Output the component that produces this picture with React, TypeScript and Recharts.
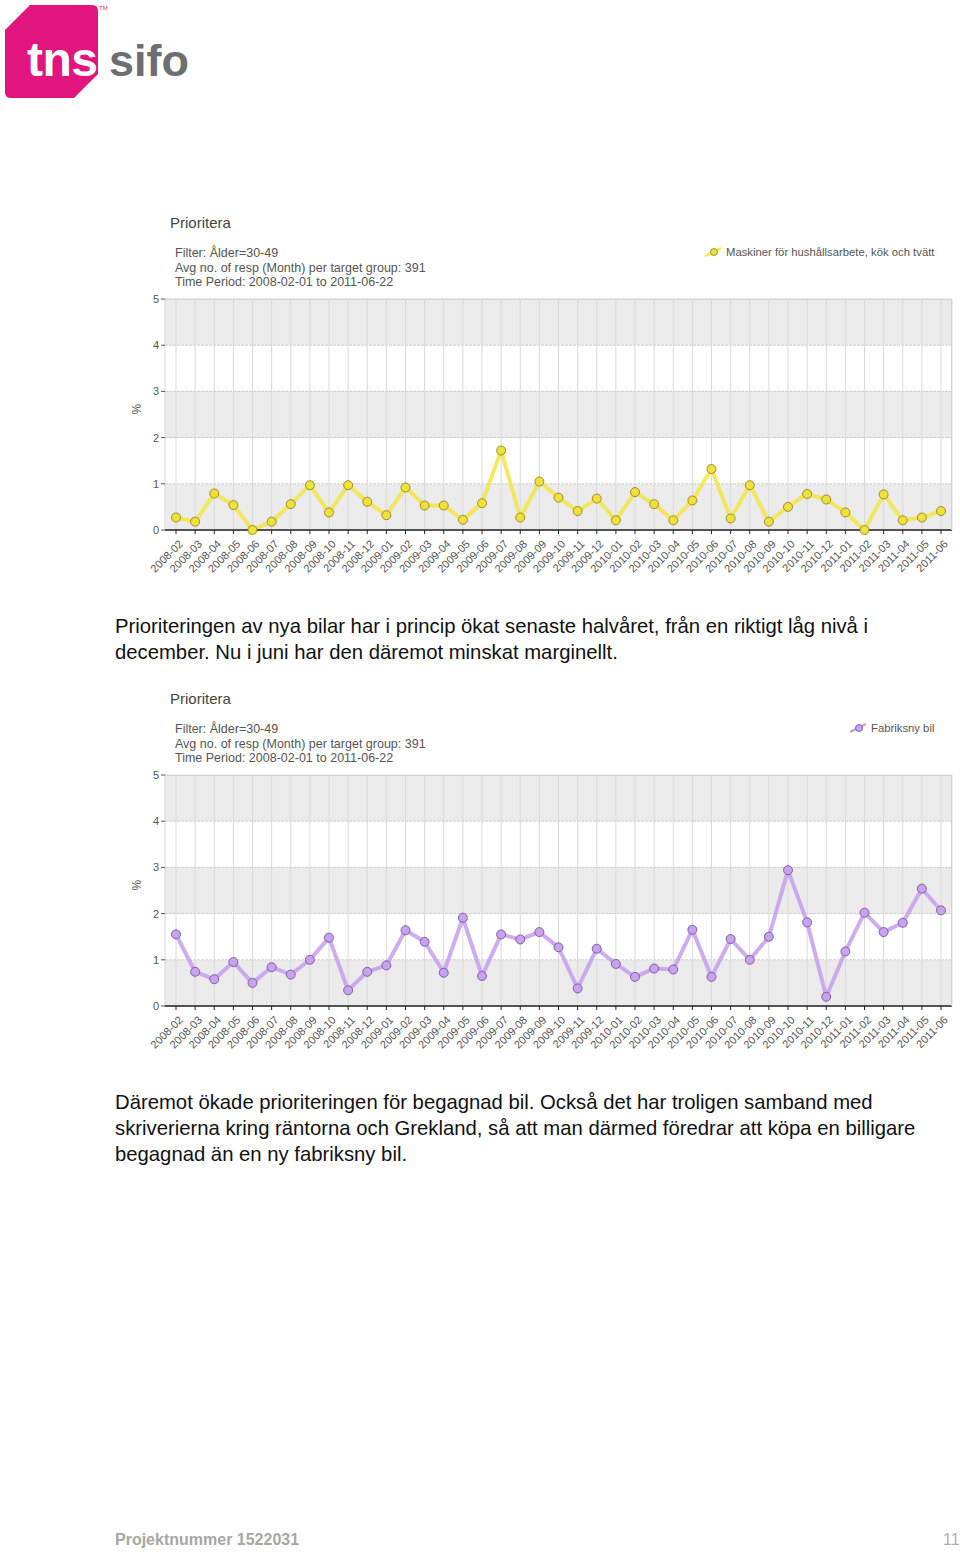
import React from 'react';
import {
  LineChart,
  Line,
  XAxis,
  YAxis,
  CartesianGrid,
} from 'recharts';

const months = [
  '2008-02', '2008-03', '2008-04', '2008-05', '2008-06', '2008-07', '2008-08', '2008-09',
  '2008-10', '2008-11', '2008-12', '2009-01', '2009-02', '2009-03', '2009-04', '2009-05',
  '2009-06', '2009-07', '2009-08', '2009-09', '2009-10', '2009-11', '2009-12', '2010-01',
  '2010-02', '2010-03', '2010-04', '2010-05', '2010-06', '2010-07', '2010-08', '2010-09',
  '2010-10', '2010-11', '2010-12', '2011-01', '2011-02', '2011-03', '2011-04', '2011-05',
  '2011-06',
];

const maskinerValues = [
  0.27, 0.18, 0.79, 0.54, 0.0, 0.18, 0.56, 0.97, 0.38, 0.97, 0.61, 0.32, 0.92, 0.53,
  0.53, 0.22, 0.58, 1.72, 0.27, 1.05, 0.7, 0.41, 0.68, 0.21, 0.82, 0.56, 0.21, 0.64,
  1.32, 0.25, 0.97, 0.18, 0.5, 0.78, 0.66, 0.38, 0.0, 0.77, 0.21, 0.27, 0.41,
];

const fabriksnyValues = [
  1.55, 0.74, 0.58, 0.95, 0.5, 0.84, 0.68, 1.0, 1.48, 0.34, 0.74, 0.88, 1.64, 1.39,
  0.72, 1.91, 0.65, 1.55, 1.44, 1.6, 1.27, 0.38, 1.24, 0.91, 0.63, 0.81, 0.79, 1.65,
  0.63, 1.45, 1.0, 1.5, 2.94, 1.81, 0.2, 1.18, 2.02, 1.6, 1.8, 2.54, 2.07,
];

const yTicks = [0, 1, 2, 3, 4, 5];

const infoLines = [
  'Filter: Ålder=30-49',
  'Avg no. of resp (Month) per target group: 391',
  'Time Period: 2008-02-01 to 2011-06-22',
];

const FONT = '"Liberation Sans", Arial, sans-serif';

function MonthTick(props: any) {
  const { x, y, payload } = props;
  return (
    <g transform={`translate(${x + 2},${y + 3}) rotate(-45)`}>
      <text textAnchor="end" dy={8} fontSize={11} fill="#555" fontFamily={FONT}>
        {payload.value}
      </text>
    </g>
  );
}

interface PanelProps {
  top: number;
  values: number[];
  label: string;
  line: string;
  dotFill: string;
  dotStroke: string;
  legendLeft: number;
}

function Panel({ top, values, label, line, dotFill, dotStroke, legendLeft }: PanelProps) {
  const data = months.map((m, i) => ({ month: m, value: values[i] }));
  return (
    <div style={{ position: 'absolute', left: 0, top, width: 960, height: 380 }}>
      <div style={{ position: 'absolute', left: 170, top: 6, fontSize: 15, color: '#444', fontFamily: FONT }}>
        Prioritera
      </div>
      {infoLines.map((t, i) => (
        <div
          key={t}
          style={{
            position: 'absolute',
            left: 175,
            top: 38 + i * 14.5,
            fontSize: 12.5,
            color: '#555',
            fontFamily: FONT,
            whiteSpace: 'nowrap',
          }}
        >
          {t}
        </div>
      ))}
      <div
        style={{
          position: 'absolute',
          left: legendLeft,
          top: 38,
          display: 'flex',
          alignItems: 'center',
          gap: 4,
          fontSize: 11.3,
          color: '#555',
          fontFamily: FONT,
          whiteSpace: 'nowrap',
        }}
      >
        <svg width={18} height={12}>
          <line x1={1} y1={10} x2={17} y2={2} stroke={line} strokeWidth={2.5} />
          <circle cx={10} cy={6} r={3.5} fill={dotFill} stroke={dotStroke} strokeWidth={0.8} />
        </svg>
        {label}
      </div>
      <div style={{ position: 'absolute', left: 0, top: 82 }}>
        <LineChart
          width={960}
          height={300}
          data={data}
          margin={{ top: 9, right: 8, left: 140, bottom: 10 }}
        >
          <CartesianGrid
            vertical={false}
            horizontalFill={['#ebebeb', '#ffffff']}
            fillOpacity={1}
            stroke="#cfcfcf"
            strokeDasharray="3 1"
          />
          <CartesianGrid horizontal={false} stroke="#d9d9d9" />
          <XAxis
            dataKey="month"
            interval={0}
            padding={{ left: 11, right: 11 }}
            height={50}
            axisLine={{ stroke: '#222', strokeWidth: 1.5 }}
            tickLine={{ stroke: '#222' }}
            tickSize={4}
            tick={<MonthTick />}
          />
          <YAxis
            domain={[0, 5]}
            ticks={yTicks}
            width={25}
            axisLine={false}
            tickLine={{ stroke: '#555' }}
            tickSize={4}
            tickMargin={2}
            tick={{ fontSize: 11, fill: '#555', fontFamily: FONT }}
            label={{
              value: '%',
              angle: -90,
              position: 'insideLeft',
              offset: -3,
              fontSize: 12,
              fill: '#555',
              fontFamily: FONT,
            }}
          />
          <Line
            dataKey="value"
            stroke={line}
            strokeWidth={4}
            strokeOpacity={0.85}
            isAnimationActive={false}
            dot={{ r: 4.5, fill: dotFill, stroke: dotStroke, strokeWidth: 1, fillOpacity: 1 }}
            activeDot={false}
          />
        </LineChart>
      </div>
      <div
        style={{
          position: 'absolute',
          left: 165,
          top: 91,
          width: 787,
          height: 231,
          borderTop: '1px solid #d2d2d2',
          borderRight: '1px solid #d2d2d2',
          boxSizing: 'border-box',
          pointerEvents: 'none',
        }}
      />
    </div>
  );
}

function Logo() {
  return (
    <svg width={200} height={105} style={{ position: 'absolute', left: 0, top: 0 }}>
      <path
        d="M5 30 L30 5 L92 5 Q98 5 98 11 L98 74 L74 98 L11 98 Q5 98 5 92 Z"
        fill="#e2147e"
      />
      <text x={27} y={76} fontSize={48} fontWeight={700} fill="#fff" fontFamily={FONT} letterSpacing={-0.5}>
        tns
      </text>
      <text x={109} y={76} fontSize={45} fontWeight={700} fill="#6d6e71" fontFamily={FONT}>
        sifo
      </text>
      <text x={99} y={10} fontSize={6} fill="#e2147e" fontFamily={FONT}>
        TM
      </text>
    </svg>
  );
}

const para1 = [
  'Prioriteringen av nya bilar har i princip ökat senaste halvåret, från en riktigt låg nivå i',
  'december. Nu i juni har den däremot minskat marginellt.',
];

const para2 = [
  'Däremot ökade prioriteringen för begagnad bil. Också det har troligen samband med',
  'skriverierna kring räntorna och Grekland, så att man därmed föredrar att köpa en billigare',
  'begagnad än en ny fabriksny bil.',
];

function Paragraph({ lines, top }: { lines: string[]; top: number }) {
  return (
    <>
      {lines.map((t, i) => (
        <div
          key={t}
          style={{
            position: 'absolute',
            left: 115,
            top: top + i * 26,
            fontSize: 20.3,
            color: '#111',
            fontFamily: FONT,
            whiteSpace: 'nowrap',
          }}
        >
          {t}
        </div>
      ))}
    </>
  );
}

export default function App() {
  return (
    <div style={{ position: 'absolute', left: 0, top: 0, width: 960, height: 1553, background: '#fff' }}>
      <Logo />
      <Panel
        top={208}
        values={maskinerValues}
        label="Maskiner för hushållsarbete, kök och tvätt"
        line="#f2e545"
        dotFill="#f0e03a"
        dotStroke="#8b7f1e"
        legendLeft={704}
      />
      <Panel
        top={684}
        values={fabriksnyValues}
        label="Fabriksny bil"
        line="#c49df0"
        dotFill="#c8a2ee"
        dotStroke="#6c5290"
        legendLeft={849}
      />
      <Paragraph lines={para1} top={615} />
      <Paragraph lines={para2} top={1091} />
      <div
        style={{
          position: 'absolute',
          left: 115,
          top: 1531,
          fontSize: 16,
          fontWeight: 700,
          color: '#a6a6a6',
          fontFamily: FONT,
          whiteSpace: 'nowrap',
        }}
      >
        Projektnummer 1522031
      </div>
      <div style={{ position: 'absolute', left: 943, top: 1531, fontSize: 16, color: '#b0b0b0', fontFamily: FONT }}>
        11
      </div>
    </div>
  );
}
